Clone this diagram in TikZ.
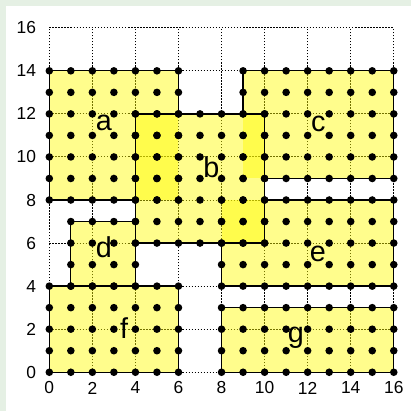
\documentclass[tikz,border=0pt]{standalone}
\usepackage{fontspec}
\setmainfont{Liberation Sans}
\definecolor{bggreen}{RGB}{229,240,228}
\definecolor{fillyellow}{RGB}{255,252,0}
\begin{document}
\begin{tikzpicture}[x=0.5cm,y=0.5cm,
  gridline/.style={black, line width=0.6pt, dash pattern=on 1pt off 1pt},
  region/.style={fill=fillyellow, fill opacity=0.45},
  edge/.style={black, line width=0.85pt, line join=miter},
  lbl/.style={font=\fontsize{19}{22}\selectfont, inner sep=0pt},
  axis/.style={font=\fontsize{11.5}{13}\selectfont, inner sep=0pt}]
\useasboundingbox (-2.29,-1.80) rectangle (16.80,17.29);
\fill[bggreen] (-2.29,-1.80) rectangle (16.80,17.29);
\fill[white] (-2.01,-1.80) rectangle (16.80,17.01);
% grid
\draw[gridline] (0,0) grid (16,16);
% regions
\foreach \x/\y/\X/\Y in {0/8/6/14, 9/9/16/14, 1/4/4/7, 8/4/16/8, 0/0/6/4, 8/0/16/3, 4/6/10/12}
  \fill[region] (\x,\y) rectangle (\X,\Y);
% borders
\draw[edge] (4,8) -- (0,8) -- (0,14) -- (6,14) -- (6,12);
\draw[edge] (9,12) -- (9,14) -- (16,14) -- (16,9) -- (10,9);
\draw[edge] (8,6) -- (8,4) -- (16,4) -- (16,8) -- (10,8);
\draw[edge] (1,4) rectangle (4,7);
\draw[edge] (0,0) rectangle (6,4);
\draw[edge] (8,0) rectangle (16,3);
\draw[edge] (4,6) rectangle (10,12);
% dots
\foreach \x/\y/\X/\Y in {0/8/6/14, 9/9/16/14, 1/4/4/7, 8/4/16/8, 0/0/6/4, 8/0/16/3, 4/6/10/12}
  {\foreach \i in {\x,...,\X} {\foreach \j in {\y,...,\Y} {\fill[black] (\i,\j) circle[radius=0.088cm];}}}
% labels
\node[lbl] (la) at (2.54,11.6) {a};
\node[lbl] (lb) at (7.53,9.5) {b};
\node[lbl] (lc) at (12.5,11.55) {c};
\node[lbl] (ld) at (2.54,5.8) {d};
\node[lbl] (le) at (12.47,5.5) {e};
\node[lbl] (lf) at (3.47,2.05) {f};
\node[lbl] (lg) at (11.45,1.6) {g};
% axes
\foreach \v in {0,2,...,16} {
  \node[axis, anchor=east] (ya\v) at (-0.6,\v) {\v};
  \node[axis] (xa\v) at (\v,-0.73) {\v};
}
\end{tikzpicture}
\end{document}
